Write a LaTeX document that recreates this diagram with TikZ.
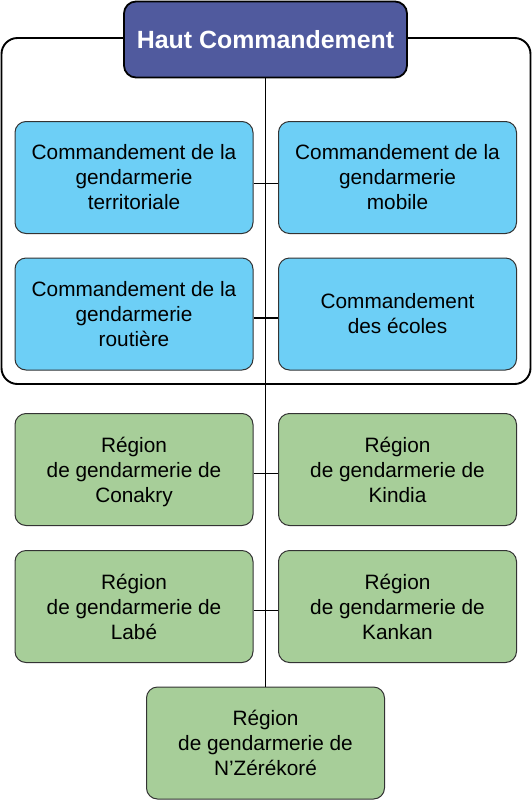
\documentclass[tikz,border=0pt]{standalone}
\usepackage{fontspec}
\setmainfont{Liberation Sans}
\definecolor{hautfill}{HTML}{505A9E}
\definecolor{bluefill}{HTML}{6DCFF6}
\definecolor{greenfill}{HTML}{A7CE99}
\definecolor{boxline}{HTML}{333333}
\begin{document}
\begin{tikzpicture}[x=1pt,y=-1pt,
  unit/.style={draw=boxline, line width=1pt, rounded corners=11pt, minimum width=238pt, minimum height=112pt, align=center, font=\fontsize{20.8}{25}\selectfont, inner sep=0pt},
  bluebox/.style={unit, fill=bluefill},
  greenbox/.style={unit, fill=greenfill},
  link/.style={draw=black, line width=1.9pt}]
\useasboundingbox (0,0) rectangle (532,801);
% container
\draw[line width=1.9pt, rounded corners=16pt] (1.5,38) rectangle (530.5,384);
% nodes
\node[draw=black, line width=1.8pt, fill=hautfill, rounded corners=12pt, minimum width=283pt, minimum height=76pt, inner sep=0pt, text=white, font=\fontsize{24.9}{29}\selectfont\bfseries] (haut) at (265.5,39.5) {Haut Commandement};
\node[bluebox] (ter) at (134,177.5) {Commandement de la\\gendarmerie\\territoriale};
\node[bluebox] (mob) at (397.5,177.5) {Commandement de la\\gendarmerie\\mobile};
\node[bluebox] (rou) at (134,314) {Commandement de la\\gendarmerie\\routière};
\node[bluebox] (eco) at (397.5,314) {Commandement\\des écoles};
\node[greenbox] (con) at (134,469.5) {Région\\de gendarmerie de\\\raisebox{0pt}[\height][0pt]{Conakry}};
\node[greenbox] (kin) at (397.5,469.5) {Région\\de gendarmerie de\\Kindia};
\node[greenbox] (lab) at (134,606.5) {Région\\de gendarmerie de\\Labé};
\node[greenbox] (kan) at (397.5,606.5) {Région\\de gendarmerie de\\Kankan};
\node[greenbox] (nze) at (265.5,743) {Région\\de gendarmerie de\\N’Zérékoré};
% connectors
\draw[link] (haut.south) -- (nze.north);
\draw[link] ([yshift=-6pt]ter.east) -- ([yshift=-6pt]mob.west);
\draw[link] ([yshift=-4pt]rou.east) -- ([yshift=-4pt]eco.west);
\draw[link] ([yshift=-4pt]con.east) -- ([yshift=-4pt]kin.west);
\draw[link] ([yshift=-4pt]lab.east) -- ([yshift=-4pt]kan.west);
\end{tikzpicture}
\end{document}
